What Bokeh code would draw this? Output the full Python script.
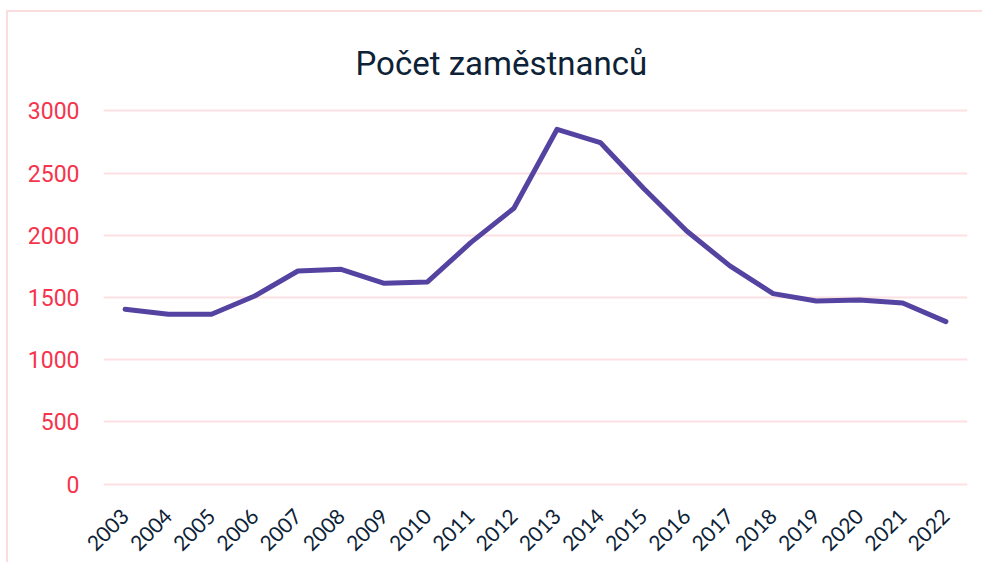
import math
from bokeh.plotting import figure
from bokeh.models import Range1d, FactorRange, SingleIntervalTicker, Title
from bokeh.embed import file_html
from bokeh.resources import INLINE

years = ["2003", "2004", "2005", "2006", "2007", "2008", "2009", "2010", "2011", "2012",
         "2013", "2014", "2015", "2016", "2017", "2018", "2019", "2020", "2021", "2022"]
employees = [1405, 1365, 1365, 1512, 1713, 1727, 1614, 1625, 1941, 2218,
             2853, 2746, 2379, 2035, 1754, 1531, 1472, 1480, 1456, 1306]
title_text = "Počet zaměstnanců"

p = figure(width=976, height=552, x_range=FactorRange(*years), y_range=Range1d(-20, 3020),
           output_backend="svg", toolbar_location=None,
           min_border_left=95, min_border_right=17, min_border_top=96, min_border_bottom=78)

p.styles = {"margin-left": "6px", "margin-top": "10px",
            "border-left": "2px solid #fbdde0", "border-top": "2px solid #fbdde0"}

p.add_layout(Title(text=title_text, align="left", offset=252, text_font="Roboto",
                   text_font_size="33px", text_font_style="normal", text_color="#0d2236",
                   vertical_align="top", standoff=48), "above")

p.line(years, employees, line_color="#5443a0", line_width=5, line_join="round", line_cap="round")

p.outline_line_color = None
p.background_fill_color = "white"
p.border_fill_color = "white"

p.xgrid.grid_line_color = None
p.ygrid.grid_line_color = "#fde0e4"
p.ygrid.grid_line_width = 2

p.yaxis.ticker = SingleIntervalTicker(interval=500)
p.yaxis.axis_line_color = None
p.yaxis.major_tick_line_color = None
p.yaxis.minor_tick_line_color = None
p.yaxis.major_label_text_color = "#f5344d"
p.yaxis.major_label_text_font = "Roboto"
p.yaxis.major_label_text_font_size = "23px"
p.yaxis.major_label_standoff = 18

p.xaxis.axis_line_color = None
p.xaxis.major_tick_line_color = None
p.xaxis.major_label_orientation = math.pi / 4
p.xaxis.major_label_text_color = "#0d2236"
p.xaxis.major_label_text_font = "Lato"
p.xaxis.major_label_text_font_size = "21px"
p.xaxis.major_label_standoff = 20

open("out.html", "w").write(file_html(p, INLINE))
